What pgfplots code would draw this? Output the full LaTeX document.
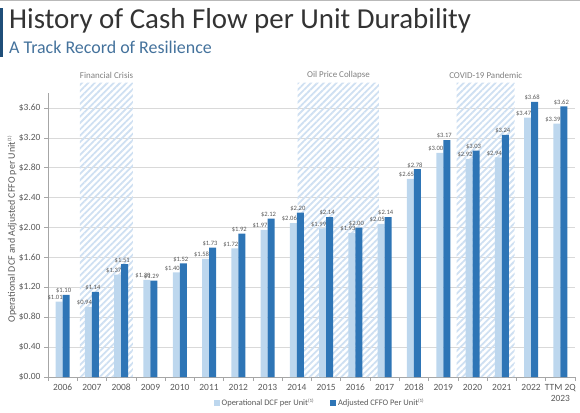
\documentclass[border=0pt]{standalone}
\usepackage{pgfplots}
\pgfplotsset{compat=1.18}
\usepackage{pgfplotstable}
\usepackage{fontspec}
\setmainfont{Carlito}
\usetikzlibrary{patterns.meta}

\definecolor{opdcf}{HTML}{BDD7EE}
\definecolor{acffo}{HTML}{2E75B6}
\definecolor{hatchblue}{HTML}{CFE0F2}
\definecolor{txtgray}{HTML}{595959}
\definecolor{axgray}{HTML}{A6A6A6}
\definecolor{gridgray}{HTML}{D9D9D9}
\definecolor{subblue}{HTML}{44729C}
\definecolor{navy}{HTML}{1F4E79}

% x = category index (2006 ... TTM 2Q 2023)
\pgfplotstableread{
x  op    cffo
0  1.01  1.10
1  0.94  1.14
2  1.37  1.51
3  1.30  1.29
4  1.40  1.52
5  1.58  1.73
6  1.72  1.92
7  1.97  2.12
8  2.06  2.20
9  1.99  2.14
10 1.93  2.00
11 2.05  2.14
12 2.65  2.78
13 3.00  3.17
14 2.92  3.03
15 2.94  3.24
16 3.47  3.68
17 3.39  3.62
}\cashflow

\begin{document}
\begin{tikzpicture}
\path[use as bounding box] (0bp,0bp) rectangle (580bp,-413bp);
\draw[gray!55, line width=1.2bp] (0bp,-0.6bp) -- (580bp,-0.6bp);
\fill[navy] (0bp,-8bp) rectangle (2.5bp,-57bp);
\node[anchor=base west, inner sep=0, font=\fontsize{29}{32}\selectfont, text=black!80]
  at (9bp,-28bp) {History of Cash Flow per Unit Durability};
\node[anchor=base west, inner sep=0, font=\fontsize{18}{20}\selectfont, text=subblue]
  at (9bp,-53bp) {A Track Record of Resilience};
\node[rotate=90, font=\fontsize{10}{12}\selectfont, text=txtgray]
  at (12bp,-229bp) {Operational DCF and Adjusted CFFO per Unit\textsuperscript{\tiny(1)}};

\begin{axis}[
  at={(48bp,-377bp)}, anchor=south west,
  scale only axis, width=527bp, height=284bp,
  xmin=-0.5, xmax=17.5, ymin=0, ymax=3.8,
  clip=false,
  axis x line*=bottom, axis y line*=left,
  axis line style={axgray, line width=0.8bp},
  xtick={0,...,17},
  xticklabels={2006,2007,2008,2009,2010,2011,2012,2013,2014,2015,2016,2017,2018,2019,2020,2021,2022,{TTM 2Q\\2023}},
  xticklabel style={align=center},
  major x tick style={draw=none},
  minor xtick={-0.5,0.5,...,17.5},
  minor x tick style={axgray, line width=0.6bp},
  minor tick length=4bp,
  ytick={0,0.4,0.8,1.2,1.6,2,2.4,2.8,3.2,3.6},
  yticklabel={\$\pgfmathprintnumber[fixed,fixed zerofill,precision=2]{\tick}},
  ytick style={axgray, line width=0.6bp},
  major tick length=4bp,
  tick align=outside,
  /pgf/number format/assume math mode=true,
  tick label style={font=\fontsize{9.5}{11}\selectfont, text=txtgray},
  ymajorgrids,
  major grid style={gridgray, line width=0.6bp},
  every node near coord/.append style={font=\fontsize{6.6}{8}\selectfont, text=txtgray, inner xsep=0.3bp, inner ysep=1.2bp},
  legend style={at={(axis description cs:0.516,-0.0915)}, anchor=center, draw=none,
    fill=none, legend columns=2, font=\fontsize{8.5}{10}\selectfont, text=txtgray,
    /tikz/every even column/.append style={column sep=14bp}},
]
% crisis periods
\addplot[draw=none, sharp plot, forget plot, pattern={Lines[angle=45,distance=4.5bp,line width=1.8bp]}, pattern color=hatchblue]
  coordinates {(0.59,0) (0.59,3.94) (2.40,3.94) (2.40,0)} \closedcycle;
\addplot[draw=none, sharp plot, forget plot, pattern={Lines[angle=45,distance=4.5bp,line width=1.8bp]}, pattern color=hatchblue]
  coordinates {(8.03,0) (8.03,3.94) (10.80,3.94) (10.80,0)} \closedcycle;
\addplot[draw=none, sharp plot, forget plot, pattern={Lines[angle=45,distance=4.5bp,line width=1.8bp]}, pattern color=hatchblue]
  coordinates {(13.46,0) (13.46,3.94) (15.44,3.94) (15.44,0)} \closedcycle;

\addplot[ybar, bar width=7bp, bar shift=-3.5bp, fill=opdcf, draw=none,
  legend image code/.code={\fill[opdcf] (0bp,-3bp) rectangle (6bp,3bp);}]
  table[x=x, y=op] {\cashflow};
\addplot[ybar, bar width=7bp, bar shift=3.5bp, fill=acffo, draw=none,
  nodes near coords={\$\pgfmathprintnumber[fixed,fixed zerofill,precision=2]{\pgfplotspointmeta}},
  every node near coord/.append style={xshift=1bp},
  legend image code/.code={\fill[acffo] (0bp,-3bp) rectangle (6bp,3bp);}]
  table[x=x, y=cffo] {\cashflow};
% labels of the light bars, set on top of the dark bars
\addplot[ybar, bar width=7bp, bar shift=-3.5bp, draw=none, fill=none, forget plot,
  nodes near coords={\$\pgfmathprintnumber[fixed,fixed zerofill,precision=2]{\pgfplotspointmeta}},
  every node near coord/.append style={xshift=-7.5bp}]
  table[x=x, y=op] {\cashflow};

\node[font=\fontsize{9}{10}\selectfont, text=gray] at (axis cs:1.5,4.04) {Financial Crisis};
\node[font=\fontsize{9}{10}\selectfont, text=gray] at (axis cs:9.42,4.04) {Oil Price Collapse};
\node[font=\fontsize{9}{10}\selectfont, text=gray] at (axis cs:14.45,4.04) {COVID-19 Pandemic};

\legend{Operational DCF per Unit\textsuperscript{\tiny(1)}, Adjusted CFFO Per Unit\textsuperscript{\tiny(1)}}
\end{axis}
\end{tikzpicture}
\end{document}
